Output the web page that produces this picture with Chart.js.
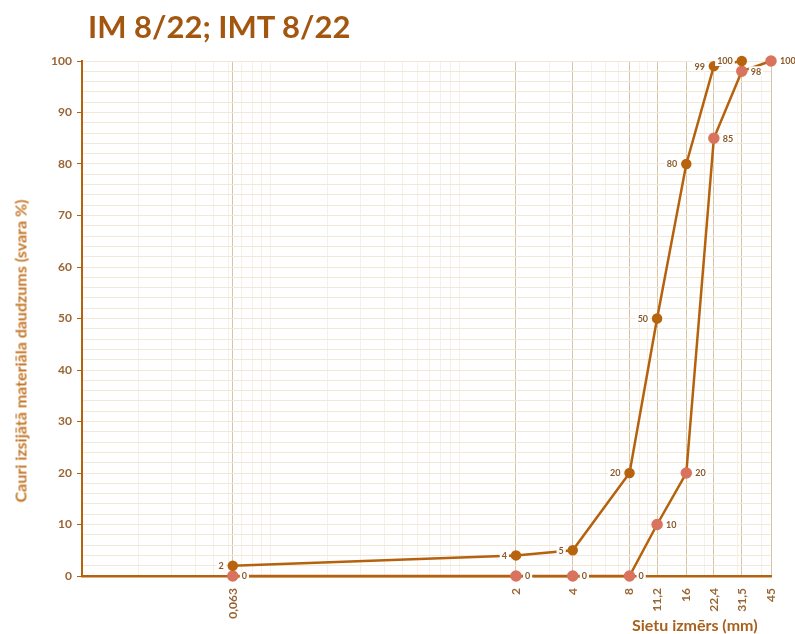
<!DOCTYPE html>
<html lang="lv">
<head>
    <meta charset="UTF-8">
    <title>IM 8/22; IMT 8/22</title>
    <script src="https://cdn.jsdelivr.net/npm/chart.js"></script>
    <style>
        body { margin: 0; background: #fff; }
        .wrap { position: relative; width: 795px; height: 634px; }
        #chartTitle { position: absolute; left: 88px; top: 7px; font: bold 31px Lato, sans-serif; color: #a3560f; white-space: nowrap; }
        #xTitle { position: absolute; left: 632px; top: 615px; font: bold 16px Lato, sans-serif; color: #a8601c; white-space: nowrap; }
        #yTitle { position: absolute; left: 20px; top: 351px; transform: translate(-50%, -50%) rotate(-90deg); font: bold 16px Lato, sans-serif; color: #c4782a; white-space: nowrap; }
    </style>
</head>
<body>
    <div class="wrap">
        <canvas id="gradeChart" width="795" height="634"></canvas>
        <div id="chartTitle">IM 8/22; IMT 8/22</div>
        <div id="yTitle">Cauri izsijātā materiāla daudzums (svara %)</div>
        <div id="xTitle">Sietu izmērs (mm)</div>
    </div>

    <script>
        // sieve sizes (mm) and their tick labels
        const sieves = [0.063, 2, 4, 8, 11.2, 16, 22.4, 31.5, 45];
        const sieveLabels = ['0,063', '2', '4', '8', '11,2', '16', '22,4', '31,5', '45'];

        // upper curve
        const imSieves = [0.063, 2, 4, 8, 11.2, 16, 22.4, 31.5];
        const imPassing = [2, 4, 5, 20, 50, 80, 99, 100];

        // lower curve
        const imtSieves = [0.063, 2, 4, 8, 11.2, 16, 22.4, 31.5, 45];
        const imtPassing = [0, 0, 0, 0, 10, 20, 85, 98, 100];

        const brown = '#b5620f';
        const tickBrown = '#9a6535';

        // minor log grid positions
        const minorGrid = [];
        [0.01, 0.1, 1, 10].forEach(d => {
            for (let k = 1; k <= 9; k++) {
                const v = +(d * k).toPrecision(3);
                if (v <= 45) minorGrid.push(v);
            }
        });

        const pointLabels = {
            id: 'pointLabels',
            afterDatasetsDraw(chart) {
                const ctx = chart.ctx;
                ctx.save();
                ctx.font = 'bold 9px Lato';
                ctx.textBaseline = 'middle';
                chart.data.datasets.forEach((ds, i) => {
                    const meta = chart.getDatasetMeta(i);
                    meta.data.forEach((pt, j) => {
                        const txt = String(ds.data[j].y);
                        const w = ctx.measureText(txt).width;
                        const x = ds.labelSide === 'left' ? pt.x - 9 - w : pt.x + 9;
                        ctx.fillStyle = '#fff';
                        ctx.fillRect(x - 2, pt.y - 5, w + 4, 10);
                        ctx.fillStyle = '#8b5a2b';
                        ctx.fillText(txt, x, pt.y + 0.5);
                    });
                });
                ctx.restore();
            }
        };

        const ctx = document.getElementById('gradeChart').getContext('2d');
        const gradeChart = new Chart(ctx, {
            type: 'line',
            data: {
                datasets: [
                    {
                        label: 'IM 8/22',
                        data: imSieves.map((s, i) => ({ x: s, y: imPassing[i] })),
                        borderColor: brown,
                        borderWidth: 2.5,
                        pointBackgroundColor: '#b8640f',
                        pointBorderColor: '#b8640f',
                        pointRadius: 4,
                        tension: 0,
                        clip: false,
                        labelSide: 'left'
                    },
                    {
                        label: 'IMT 8/22',
                        data: imtSieves.map((s, i) => ({ x: s, y: imtPassing[i] })),
                        borderColor: brown,
                        borderWidth: 2.5,
                        pointBackgroundColor: '#d9735e',
                        pointBorderColor: '#d9735e',
                        pointRadius: 4.5,
                        tension: 0,
                        clip: false,
                        labelSide: 'right'
                    }
                ]
            },
            options: {
                responsive: false,
                animation: false,
                layout: { padding: { left: 0, right: 24, top: 61, bottom: 0 } },
                plugins: {
                    legend: { display: false },
                    tooltip: { enabled: false }
                },
                scales: {
                    xMinor: {
                        type: 'logarithmic',
                        position: 'bottom',
                        min: 0.01,
                        max: 45,
                        afterBuildTicks: s => { s.ticks = minorGrid.map(v => ({ value: v })); },
                        afterFit: s => { s.height = 0; },
                        ticks: { display: false },
                        grid: { color: '#f7f0e7', lineWidth: 1, drawTicks: false, z: -1 },
                        border: { display: false }
                    },
                    x: {
                        type: 'logarithmic',
                        position: 'bottom',
                        min: 0.01,
                        max: 45,
                        afterBuildTicks: s => { s.ticks = sieves.map(v => ({ value: v })); },
                        afterFit: s => { s.height = 58; },
                        ticks: {
                            autoSkip: false,
                            minRotation: 90,
                            maxRotation: 90,
                            padding: 8,
                            color: tickBrown,
                            font: { family: 'Lato', weight: 'bold', size: 12 },
                            callback: (v, i) => sieveLabels[i]
                        },
                        grid: { color: '#d8c4a6', lineWidth: 1, tickLength: 4, tickColor: 'transparent' },
                        border: { color: brown, width: 2.5 }
                    },
                    y: {
                        min: 0,
                        max: 100,
                        afterFit: s => { s.width = 82; },
                        ticks: {
                            stepSize: 2,
                            autoSkip: false,
                            padding: 5,
                            color: tickBrown,
                            font: { family: 'Lato', weight: 'bold', size: 12 },
                            callback: v => (v % 10 === 0 ? v : '')
                        },
                        grid: {
                            color: '#f2e8da',
                            lineWidth: 1,
                            tickLength: 5,
                            tickColor: c => (c.tick && c.tick.value % 10 === 0 ? brown : 'transparent')
                        },
                        border: { color: brown, width: 2 }
                    }
                }
            },
            plugins: [pointLabels]
        });
    </script>
</body>
</html>
